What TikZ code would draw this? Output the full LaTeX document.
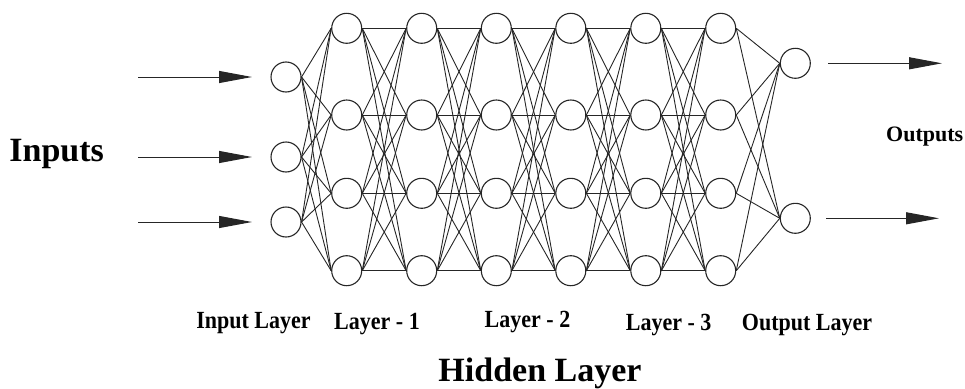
\documentclass[tikz,border=0pt]{standalone}
\usepackage{fontspec}
\setmainfont{Liberation Serif}
\usetikzlibrary{arrows.meta}
\newcommand{\lblfont}{\bfseries\fontsize{22}{26}\selectfont}
\newcommand{\bigfont}{\bfseries\fontsize{34}{40}\selectfont}
\newcommand{\stretchlbl}[1]{\scalebox{1}[1.12]{#1}}
\tikzset{
  neuron/.style={circle, draw=black!85, line width=1.1pt, minimum size=30pt, inner sep=0pt, fill=white},
  link/.style={draw=black!85, line width=0.9pt},
  sigarrow/.style={draw=black!85, line width=1pt, -{Triangle[length=33pt,width=12pt]}},
  layerlbl/.style={anchor=base, inner sep=0pt, font=\lblfont},
  biglbl/.style={anchor=base, inner sep=0pt, font=\bigfont}
}
\begin{document}
\begin{tikzpicture}[x=1pt,y=-1pt]
\useasboundingbox (0,0) rectangle (965,388);
% input layer
\foreach \i/\y in {1/77,2/157,3/222} \node[neuron] (in\i) at (286,\y) {};
% hidden layers
\foreach \c/\x in {1/346.7,2/421.7,3/496.3,4/570.8,5/645.8,6/720.7}
  \foreach \j/\y in {1/28.3,2/115,3/193.3,4/270.7}
    \node[neuron] (h\c-\j) at (\x,\y) {};
% output layer
\foreach \k/\y in {1/63.3,2/218.3} \node[neuron] (out\k) at (795.3,\y) {};
% connections
\foreach \i in {1,2,3}
  \foreach \j in {1,2,3,4}
    \draw[link] (in\i.east) -- (h1-\j.west);
\foreach \c [evaluate=\c as \n using int(\c+1)] in {1,...,5}
  \foreach \i in {1,2,3,4}
    \foreach \j in {1,2,3,4}
      \draw[link] (h\c-\i.east) -- (h\n-\j.west);
\foreach \i in {1,2,3,4}
  \foreach \k in {1,2}
    \draw[link] (h6-\i.east) -- (out\k.west);
% input arrows
\foreach \i/\y in {1/77,2/157,3/222} {
  \coordinate (ia\i s) at (138,\y);
  \coordinate (ia\i e) at (252,\y);
  \draw[sigarrow] (ia\i s) -- (ia\i e);
}
% output arrows
\coordinate (oa1s) at (828,63.3); \coordinate (oa1e) at (942,63.3);
\coordinate (oa2s) at (826,218.3); \coordinate (oa2e) at (939,218.3);
\draw[sigarrow] (oa1s) -- (oa1e);
\draw[sigarrow] (oa2s) -- (oa2e);
% labels
\node[biglbl] (inputs) at (56.7,161.7) {Inputs};
\node[layerlbl] (outputs) at (924.7,141.7) {Outputs};
\node[layerlbl] (linl) at (253.5,328.3) {\stretchlbl{Input Layer}};
\node[layerlbl] (l1) at (377,329.3) {\stretchlbl{Layer - 1}};
\node[layerlbl] (l2) at (527.5,327.3) {\stretchlbl{Layer - 2}};
\node[layerlbl] (l3) at (668.7,330.7) {\stretchlbl{Layer - 3}};
\node[layerlbl] (lout) at (807,330.7) {\stretchlbl{Output Layer}};
\node[biglbl] (hidden) at (540,381.7) {Hidden Layer};
\end{tikzpicture}
\end{document}
